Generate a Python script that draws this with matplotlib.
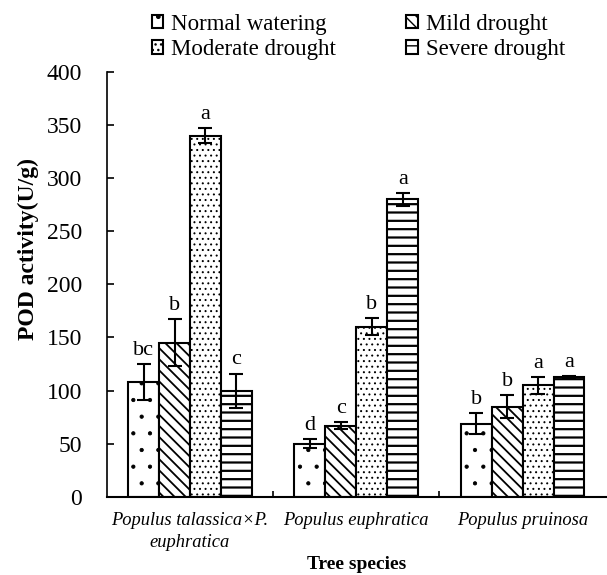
import numpy as np
import matplotlib
matplotlib.use("Agg")
import matplotlib.pyplot as plt
from matplotlib.ticker import FixedLocator

plt.rcParams['font.family'] = ['Liberation Serif', 'DejaVu Serif']

# data
species = ["Populus talassica\u00d7P.\neuphratica", "Populus euphratica", "Populus pruinosa"]
treatments = ["Normal watering", "Mild drought", "Moderate drought", "Severe drought"]
normal = [108, 50, 69]
mild = [145, 67, 85]
moderate = [340, 160, 105]
severe = [100, 280, 113]
normal_err = [17, 4, 10]
mild_err = [22, 3, 11]
moderate_err = [7, 8, 8]
severe_err = [16, 6, 1]
letters = [["bc", "d", "b"], ["b", "c", "b"], ["a", "b", "a"], ["c", "a", "a"]]

values = [normal, mild, moderate, severe]
errors = [normal_err, mild_err, moderate_err, severe_err]
hatches = ['.', '\\\\\\', '...', '--']
hatch_lw = [0.6, 1.3, 0.7, 1.6]

fig = plt.figure(figsize=(6.07, 5.75), dpi=100)
ax = fig.add_axes([0.176, 0.136, 0.822, 0.739])

x = np.arange(len(species))
w = 0.186
handles = []
for i in range(4):
    xi = x + (i - 1.5) * w
    with plt.rc_context({'hatch.linewidth': hatch_lw[i]}):
        b = ax.bar(xi, values[i], w, color='white', edgecolor='black', linewidth=1.5,
                   hatch=hatches[i], label=treatments[i])
    handles.append(b)
    ax.errorbar(xi, values[i], yerr=errors[i], fmt='none', ecolor='black',
                elinewidth=1.5, capsize=5, capthick=1.5)
    for j in range(len(species)):
        ax.annotate(letters[i][j], (xi[j], values[i][j] + errors[i][j]),
                    xytext=(0, 3), textcoords='offset points', ha='center',
                    va='bottom', fontsize=16)

ax.set_ylim(0, 400)
ax.set_yticks(np.arange(0, 401, 50))
ax.set_xlim(-0.5, 2.5)
ax.set_xticks(x)
ax.set_xticklabels(species, fontsize=13.3, style='italic')
for lab in ax.get_xticklabels():
    lab.set_linespacing(1.35)
ax.tick_params(axis='x', length=0, pad=11)
ax.xaxis.set_minor_locator(FixedLocator([0.5, 1.5]))
ax.tick_params(axis='x', which='minor', direction='in', length=4, width=1.2)
ax.tick_params(axis='y', labelsize=17, direction='in', length=5, width=1.2, pad=18)
ax.spines['top'].set_visible(False)
ax.spines['right'].set_visible(False)
ax.spines['left'].set_linewidth(1.2)
ax.spines['bottom'].set_linewidth(1.5)

ax.set_ylabel("POD activity(U/g)", fontsize=17, fontweight='bold')
ax.yaxis.set_label_coords(-0.136, 0.584)
ax.set_xlabel("Tree species", fontsize=14, fontweight='bold', labelpad=4)

order = [0, 2, 1, 3]
fig.legend([handles[k] for k in order], [treatments[k] for k in order],
           loc='upper left', bbox_to_anchor=(152 / 607, 1 - 14 / 575), ncol=2,
           frameon=False, fontsize=16.5, handlelength=0.5, handleheight=0.5,
           handletextpad=0.35, columnspacing=3.05, labelspacing=0.18,
           borderpad=0, borderaxespad=0)

fig.savefig("out.png", dpi=100)
